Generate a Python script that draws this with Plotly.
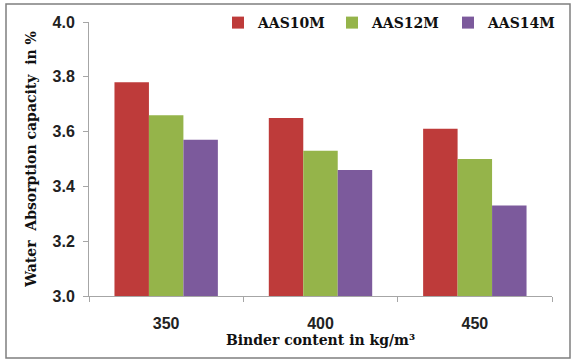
import plotly.graph_objects as go

categories = ["350", "400", "450"]
series_names = ["AAS10M", "AAS12M", "AAS14M"]
aas10m = [3.78, 3.65, 3.61]
aas12m = [3.66, 3.53, 3.50]
aas14m = [3.57, 3.46, 3.33]
colors = ["#BE3B3A", "#95B44A", "#7C5A9C"]
legend_ids = ["legend", "legend2", "legend3"]

fig = go.Figure()
for name, vals, c, lid in zip(series_names, [aas10m, aas12m, aas14m], colors, legend_ids):
    fig.add_trace(go.Bar(x=categories, y=vals, name="<b>" + name + "</b>", legend=lid,
                         marker=dict(color=c, line=dict(width=0))))

W, H = 576, 362
ml, mr, mt, mb = 89, 24, 22, 66
pw, ph = W - ml - mr, H - mt - mb

def px(x):
    return (x - ml) / pw

def py(y):
    return (H - mb - y) / ph

fig.add_shape(type="rect", xref="paper", yref="paper",
              x0=px(6), x1=px(570), y0=py(358), y1=py(4),
              line=dict(color="#7F7F7F", width=1.5), fillcolor="rgba(0,0,0,0)", layer="below")

leg_common = dict(orientation="h", xanchor="left", yanchor="top", y=py(7),
                  font=dict(family="DejaVu Serif", size=14, color="#111"),
                  itemwidth=30, bgcolor="rgba(0,0,0,0)")
leg_left = [218, 332, 448]

fig.update_layout(
    width=W, height=H,
    margin=dict(l=ml, r=mr, t=mt, b=mb, autoexpand=False),
    paper_bgcolor="white", plot_bgcolor="white",
    barmode="group", bargap=0.33, bargroupgap=0,
    showlegend=True,
    legend=dict(x=px(leg_left[0]), **leg_common),
    legend2=dict(x=px(leg_left[1]), **leg_common),
    legend3=dict(x=px(leg_left[2]), **leg_common),
    xaxis=dict(type="category", showline=True, linecolor="#A6A6A6", linewidth=1,
               ticks="outside", tickson="boundaries", ticklen=5, tickcolor="#A6A6A6",
               showgrid=False, ticklabelstandoff=13, automargin=False,
               tickfont=dict(family="Liberation Sans", size=16, color="#222"),
               title=dict(text="<b>Binder content in kg/m³</b>", standoff=0,
                          font=dict(family="DejaVu Serif", size=14, color="#111"))),
    yaxis=dict(range=[3.0, 4.0], dtick=0.2, tickformat=".1f", showline=True,
               linecolor="#A6A6A6", linewidth=1, ticks="outside", ticklen=5,
               tickcolor="#A6A6A6", showgrid=False, zeroline=False, ticklabelstandoff=5,
               automargin=False,
               tickfont=dict(family="Liberation Sans", size=16, color="#222"),
               title=dict(text="<b>Water  Absorption capacity  in %</b>", standoff=12,
                          font=dict(family="DejaVu Serif", size=14, color="#111"))),
    font=dict(family="Liberation Sans"),
)
fig.update_xaxes(tickprefix="<b>", ticksuffix="</b>")
fig.update_yaxes(tickprefix="<b>", ticksuffix="</b>")

fig.write_html("out.html")
